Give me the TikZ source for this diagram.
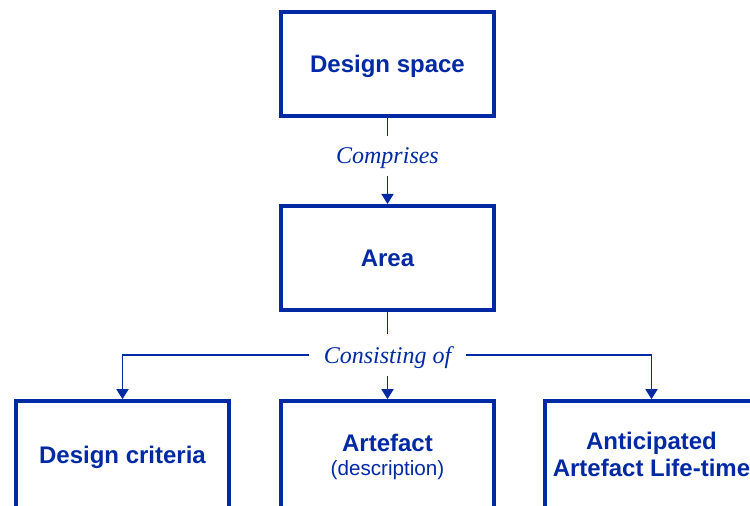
\documentclass[tikz,border=0pt]{standalone}
\usepackage{fontspec}
\setmainfont{Liberation Sans}
\newfontfamily\relfont{Liberation Serif}
\usetikzlibrary{arrows.meta}
\definecolor{dblue}{RGB}{0,41,163}

\begin{document}
\begin{tikzpicture}[x=0.75pt,y=-0.75pt,
    box/.style={draw=dblue, line width=3pt, minimum width=159.75pt, minimum height=78pt,
        text depth=0pt, align=center, text=dblue, font=\fontsize{18}{20}\selectfont\bfseries},
    rel/.style={text=dblue, inner xsep=11pt, inner ysep=9pt, text depth=0pt,
        font=\relfont\itshape\fontsize{18}{20}\selectfont},
    link/.style={draw=dblue, line width=1.2pt},
    tip/.style={link, -{Triangle[width=9pt,length=7.5pt]}}]
            \useasboundingbox (0,0) rectangle (750,506);
            \node[box] (ds) at (387.5,64) {Design space};
            \node[box] (area) at (387.5,258) {Area};
            % bottom row runs off the lower edge
            \node[box, minimum height=80pt] (crit) at (122.5,454.5) {Design criteria};
            \node[box, minimum height=80pt] (art) at (387.5,454.5) {Artefact\\[-2pt]{\fontsize{15.5}{18}\selectfont\mdseries (description)}};
            \node[box, minimum height=80pt] (life) at (651.5,454.5) {Anticipated\\Artefact Life-time};
            \node[rel] (cmp) at (387.5,156) {Comprises};
            \node[rel] (cns) at (387.5,355) {Consisting of};
            \draw[link] (ds) -- (cmp) (area) -- (cns);
            \draw[tip] (cmp) -- (area);
            \draw[tip] (cns) -- (art);
            \draw[tip] (cns.west) -| (crit);
            \draw[tip] (cns.east) -| (life);
\end{tikzpicture}
\end{document}
